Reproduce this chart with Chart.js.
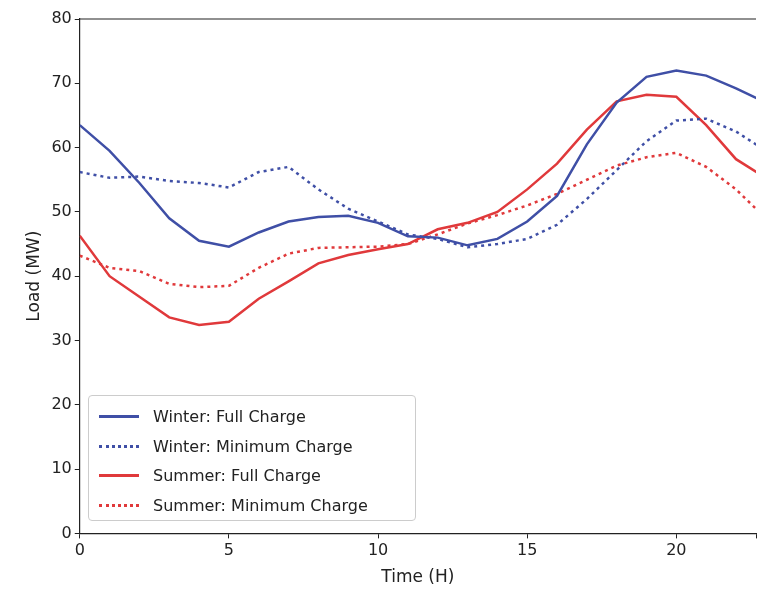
<!DOCTYPE html>
<html>
<head>
<script src="https://cdn.jsdelivr.net/npm/chart.js@4"></script>
<style>
body { margin: 0; background: #fff; overflow: hidden; }
#wrap { position: relative; width: 759px; height: 594px; }
#legend { position: absolute; left: 88px; top: 395px; width: 328px; height: 126px; border: 1px solid #ccc; border-radius: 4px; background: rgba(255,255,255,0.85); font-family: "DejaVu Sans", sans-serif; font-size: 16px; color: #222; padding-top: 6px; box-sizing: border-box; }
.row { display: flex; align-items: center; height: 29.5px; }
.sw { width: 40px; margin: 0 14px 0 10px; border-top-width: 3px; }
</style>
</head>
<body>
<div id="wrap">
<canvas id="c" width="759" height="594"></canvas>
<div id="legend"></div>
</div>
<script>
// hours 0..23
const hours = Array.from({length: 24}, (_, i) => i);
const winterFull = [63.5, 59.5, 54.5, 49, 45.5, 44.6, 46.8, 48.5, 49.2, 49.4, 48.3, 46.2, 46, 44.8, 45.8, 48.5, 52.5, 60.5, 67, 71, 72, 71.2, 69.2, 67];
const winterMin = [56.2, 55.3, 55.5, 54.8, 54.5, 53.8, 56.2, 57, 53.5, 50.5, 48.5, 46.5, 45.8, 44.5, 45, 45.8, 48, 52, 56.5, 61, 64.2, 64.5, 62.5, 59.5];
const summerFull = [46.3, 40, 36.8, 33.6, 32.4, 32.9, 36.5, 39.2, 42, 43.3, 44.2, 45, 47.3, 48.3, 50, 53.5, 57.5, 62.8, 67.2, 68.2, 67.9, 63.5, 58.2, 55.3];
const summerMin = [43.2, 41.3, 40.8, 38.8, 38.3, 38.5, 41.3, 43.5, 44.4, 44.5, 44.6, 45, 46.5, 48.2, 49.5, 51, 52.8, 55, 57.2, 58.5, 59.2, 57, 53.5, 49];
const seriesNames = ['Winter: Full Charge', 'Winter: Minimum Charge', 'Summer: Full Charge', 'Summer: Minimum Charge'];

const blue = '#3f4fa6', red = '#e0393b';
const styles = [[blue, []], [blue, [3, 4]], [red, []], [red, [3, 4]]];
const data = [winterFull, winterMin, summerFull, summerMin];

const datasets = data.map((vals, i) => ({
    label: seriesNames[i],
    data: vals.map((v, j) => ({x: hours[j], y: v})),
    borderColor: styles[i][0],
    borderDash: styles[i][1],
    borderWidth: 2.5,
    pointRadius: 0,
    tension: 0,
    fill: false
}));

const font = {family: '"DejaVu Sans", sans-serif', size: 16};
const tickGrid = {display: true, drawOnChartArea: false, drawTicks: true, tickLength: 5, color: '#222'};
new Chart(document.getElementById('c'), {
    type: 'line',
    data: {datasets},
    options: {
        responsive: false,
        animation: false,
        layout: {padding: {top: 19, right: 0, left: 20, bottom: 2}},
        plugins: {legend: {display: false}, tooltip: {enabled: false}},
        scales: {
            x: {
                type: 'linear', min: 0, max: 22.67,
                grid: tickGrid,
                border: {color: '#222', width: 1.2},
                ticks: {stepSize: 5, color: '#222', font, callback: v => v % 5 === 0 ? v : ''},
                title: {display: true, text: 'Time (H)', color: '#222', font: {...font, size: 17}}
            },
            y: {
                min: 0, max: 80,
                grid: tickGrid,
                border: {color: '#222', width: 1.2},
                ticks: {stepSize: 10, color: '#222', font},
                title: {display: true, text: 'Load (MW)', color: '#222', font: {...font, size: 17}}
            }
        }
    },
    plugins: [{
        id: 'topBorder',
        afterDraw(chart) {
            const {ctx, chartArea: a} = chart;
            ctx.save();
            ctx.strokeStyle = '#222';
            ctx.lineWidth = 1.2;
            ctx.beginPath();
            ctx.moveTo(a.left, a.top);
            ctx.lineTo(a.right, a.top);
            ctx.stroke();
            ctx.restore();
        }
    }]
});

const legend = document.getElementById('legend');
seriesNames.forEach((name, i) => {
    const row = document.createElement('div');
    row.className = 'row';
    row.innerHTML = `<span class="sw" style="border-top-style:${styles[i][1].length ? 'dotted' : 'solid'};border-top-color:${styles[i][0]}"></span>${name}`;
    legend.appendChild(row);
});
</script>
</body>
</html>
